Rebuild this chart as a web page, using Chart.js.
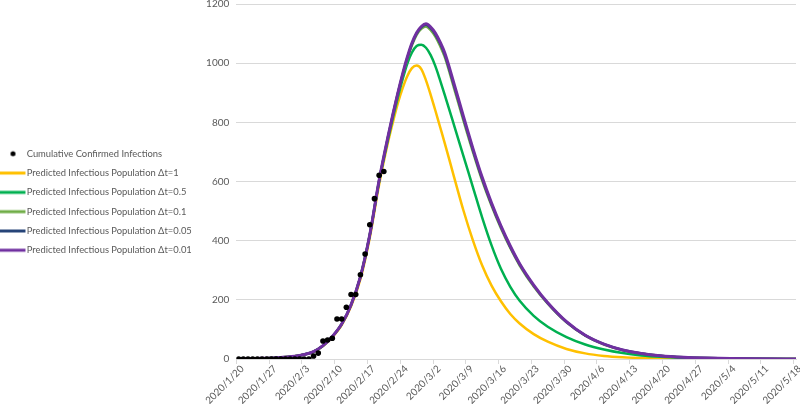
<!DOCTYPE html>
<html>
<head>
<meta charset="utf-8">
<script src="https://cdn.jsdelivr.net/npm/chart.js@4.4.1/dist/chart.umd.min.js"></script>
<style>
  html, body { margin: 0; padding: 0; background: #fff; }
</style>
</head>
<body>
<canvas id="chart" width="800" height="404"></canvas>
<script>
// observed data (days counted from 2020/1/20)
const confirmedDays = [0, 1, 2, 3, 4, 5, 6, 7, 8, 9, 10, 11, 12, 13, 14, 15,
  16, 17, 18, 19, 20, 21, 22, 23, 24, 25, 26, 27, 28, 29, 30, 31];
const confirmedCases = [0, 0, 0, 0, 0, 0, 0, 0, 0, 0, 0, 0, 0, 0, 0, 0,
  10, 20, 61, 64, 70, 135, 135, 175, 218, 218, 285, 355, 454, 542, 621, 634];

const modelDays = [0, 4, 8, 12, 14, 16, 18, 20, 22, 24, 26, 28, 30, 32, 33, 34, 35, 36, 37, 38, 39, 40,
  41, 42, 43, 44, 46, 48, 50, 52, 54, 56, 58, 60, 63, 66, 70, 74, 78, 82, 86, 90, 95, 100, 105, 110, 119];

const infDt1 = [1, 2, 4, 9, 15, 24, 44, 74, 115, 178, 270, 410, 590, 740, 805, 865, 915, 956, 983, 992, 980, 942,
  893, 840, 785, 730, 615, 502, 402, 316, 248, 195, 152, 120, 84, 58.5, 34, 19, 10.5, 5.8, 3.2, 1.7, 0.8, 0.4, 0.2, 0.1, 0];
const infDt05 = [1, 2, 4, 9, 15, 25, 45, 76, 118, 183, 278, 420, 600, 750, 820, 885, 945, 998, 1036, 1058, 1062, 1052,
  1027, 990, 943, 893, 790, 686, 582, 478, 384, 305, 244, 197, 146, 109, 74, 49, 32, 20, 12.2, 7.4, 3.9, 2, 1, 0.5, 0.15];
const infDt01 = [1, 2, 4, 9, 15, 25, 45, 76, 118, 183, 278, 420, 603, 757, 829, 896, 958, 1013, 1060, 1096, 1116, 1124,
  1112, 1090, 1059, 1021, 915, 806, 701, 603, 518, 442, 375, 316, 245, 187, 124, 79, 49, 30, 18.5, 11.1, 5.8, 3, 1.6, 0.8, 0.25];
const infDt005 = [1, 2, 4, 9, 15, 25, 45, 76, 118, 183, 278, 420, 604, 759, 831, 899, 961, 1017, 1065, 1100, 1121, 1130,
  1118, 1097, 1067, 1029, 924, 814, 708, 609, 523, 447, 379, 320, 248, 189, 125, 80, 50, 30.3, 18.7, 11.2, 5.9, 3.1, 1.6, 0.8, 0.25];
const infDt001 = [1, 2, 4, 9, 15, 25, 45, 76, 118, 183, 278, 420, 605, 760, 832, 900, 963, 1020, 1068, 1103, 1124, 1133,
  1122, 1102, 1072, 1035, 930, 820, 713, 614, 527, 450, 382, 322, 250, 190, 126, 80, 50, 30.5, 18.8, 11.3, 5.9, 3.1, 1.6, 0.8, 0.25];

const tickDays = [0, 7, 14, 21, 28, 35, 42, 49, 56, 63, 70, 77, 84, 91, 98, 105, 112, 119];
const tickLabels = ['2020/1/20', '2020/1/27', '2020/2/3', '2020/2/10', '2020/2/17', '2020/2/24',
  '2020/3/2', '2020/3/9', '2020/3/16', '2020/3/23', '2020/3/30', '2020/4/6', '2020/4/13',
  '2020/4/20', '2020/4/27', '2020/5/4', '2020/5/11', '2020/5/18'];

const seriesNames = ['Cumulative Confirmed Infections',
  'Predicted Infectious Population Δt=1',
  'Predicted Infectious Population Δt=0.5',
  'Predicted Infectious Population Δt=0.1',
  'Predicted Infectious Population Δt=0.05',
  'Predicted Infectious Population Δt=0.01'];
const seriesColors = ['#000000', '#FFC000', '#00B050', '#70AD47', '#264478', '#7030A0'];

const FONT = 'Lato, "Liberation Sans", sans-serif';
const textGrey = '#595959';
const gridGrey = '#d9d9d9';
const PLOT_LEFT = 236.3;

function toPoints(xs, ys) {
  return xs.map((x, i) => ({ x: x, y: ys[i] }));
}

// little legend swatches: a dot for the scatter, a line for the curves
function legendMark(isDot, color) {
  const c = document.createElement('canvas');
  c.width = 31;
  c.height = 8;
  const g = c.getContext('2d');
  g.fillStyle = color;
  if (isDot) {
    g.beginPath();
    g.arc(12.5, 4, 2.5, 0, Math.PI * 2);
    g.fill();
  } else {
    g.fillRect(0, 2.5, 25, 3);
  }
  return c;
}

function curve(i, values, width, order) {
  return {
    type: 'line',
    label: seriesNames[i],
    data: toPoints(modelDays, values),
    borderColor: seriesColors[i],
    borderWidth: width,
    pointRadius: 0,
    fill: false,
    cubicInterpolationMode: 'monotone',
    order: order
  };
}

const ctx = document.getElementById('chart').getContext('2d');

new Chart(ctx, {
  type: 'line',
  data: {
    datasets: [
      {
        type: 'scatter',
        label: seriesNames[0],
        data: toPoints(confirmedDays, confirmedCases),
        backgroundColor: '#000000',
        borderWidth: 0,
        pointRadius: 2.8,
        showLine: false,
        order: 0
      },
      curve(1, infDt1, 2.5, 5),
      curve(2, infDt05, 2.5, 4),
      curve(3, infDt01, 2.5, 3),
      curve(4, infDt005, 2.5, 2),
      curve(5, infDt001, 3, 1)
    ]
  },
  options: {
    responsive: false,
    animation: false,
    layout: { padding: 0 },
    plugins: {
      tooltip: { enabled: false },
      legend: {
        position: 'left',
        align: 'center',
        labels: {
          usePointStyle: true,
          pointStyleWidth: 12.1,
          padding: 9.9,
          color: textGrey,
          font: { family: FONT, size: 9.4 },
          generateLabels: function(chart) {
            return chart.data.datasets.map((ds, i) => ({
              text: ds.label,
              pointStyle: legendMark(i === 0, seriesColors[i]),
              fillStyle: seriesColors[i],
              strokeStyle: seriesColors[i],
              lineWidth: 0,
              fontColor: textGrey,
              hidden: false,
              datasetIndex: i
            }));
          }
        }
      }
    },
    scales: {
      x: {
        type: 'linear',
        min: -0.5,
        max: 119,
        afterBuildTicks: function(scale) {
          scale.ticks = tickDays.map(d => ({ value: d - 0.5 }));
        },
        afterFit: function(scale) {
          scale.height = 45;
          scale.paddingRight = 1.6;
        },
        ticks: {
          autoSkip: false,
          minRotation: 45,
          maxRotation: 45,
          padding: -1,
          labelOffset: 6,
          color: textGrey,
          font: { family: FONT, size: 10 },
          callback: function(value) {
            const idx = tickDays.indexOf(Math.round(value + 0.5));
            return idx >= 0 ? tickLabels[idx] : '';
          }
        },
        grid: {
          drawOnChartArea: false,
          drawTicks: true,
          tickLength: 5,
          color: gridGrey
        },
        border: { color: gridGrey }
      },
      y: {
        min: 0,
        max: 1200,
        afterFit: function(scale) {
          const legendWidth = scale.chart.legend ? scale.chart.legend.width : 200;
          scale.width = PLOT_LEFT - legendWidth;
          scale.paddingTop = 4;
        },
        ticks: {
          stepSize: 200,
          padding: 7,
          color: textGrey,
          font: { family: FONT, size: 10 },
          callback: function(value) {
            return String(value);
          }
        },
        grid: {
          color: gridGrey,
          drawTicks: false
        },
        border: { display: false }
      }
    }
  }
});
</script>
</body>
</html>
